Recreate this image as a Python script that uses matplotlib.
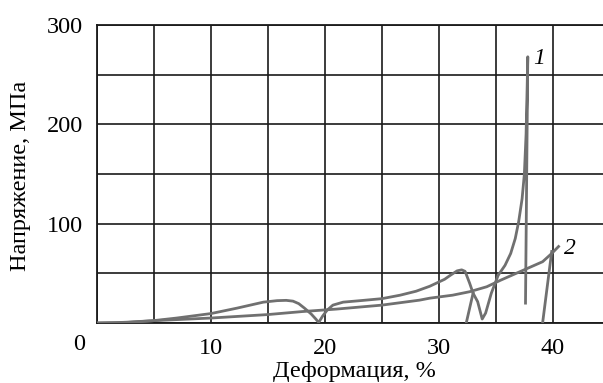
import matplotlib
matplotlib.use("Agg")
import matplotlib.pyplot as plt
import numpy as np

plt.rcParams['font.family'] = ['Liberation Serif', 'DejaVu Serif']

# Curve 1 (main trace)
c1_x = [0, 1.5, 2.6, 4.9, 7, 9, 10, 12.3, 14.6, 15.8, 16.6, 17.2, 17.7, 18.2, 18.8, 19.2, 19.45,
        19.8, 20.2, 20.7, 21.6, 23.1, 25.0, 26.6, 28.0, 29.2, 30.5, 31.0, 31.6, 32.0, 32.3,
        32.7, 33.0, 33.4, 33.8, 34.1, 34.6, 35.2, 35.8, 36.3, 36.7, 37.0, 37.3, 37.5,
        37.65, 37.75, 37.8, 37.6]
c1_y = [0, 0.3, 0.8, 2.3, 5, 8, 9.5, 15, 21, 22.5, 22.8, 22, 19.5, 15, 9, 4, 0.5,
        7, 13, 18, 21, 22.5, 24.5, 28, 32, 37, 44, 48, 52.5, 53.5, 52,
        40, 30, 21.5, 4, 10, 30, 48, 58, 70, 85, 102, 125, 150,
        190, 240, 268, 20]
# Curve 1 side branch
c1b_x = [33.0, 32.4]
c1b_y = [30, 0]

# Curve 2 (main trace)
c2_x = [0, 2.6, 4.9, 10, 15, 18, 21, 25, 28.3, 29.2, 31.2, 32.7, 34.2, 35.4, 37.1,
        39.1, 39.9, 40.5]
c2_y = [0, 0.5, 2.3, 5, 8.5, 11.5, 14, 18, 23, 25, 28, 31.5, 36.5, 43, 51.6,
        61.7, 70, 77]
# Curve 2 drop branch
c2b_x = [39.1, 39.9]
c2b_y = [0, 72]

x_ticks = [10, 20, 30, 40]
y_ticks = [100, 200, 300]
curve_labels = ["1", "2"]

fig = plt.figure(figsize=(6.03, 3.83), dpi=100)
ax = fig.add_axes([97/603, 60/383, 1 - 97/603, 298/383])

col = '#707070'
lw = 2.0
ax.plot(c1_x, c1_y, color=col, lw=lw, zorder=3, solid_joinstyle='round')
ax.plot(c1b_x, c1b_y, color=col, lw=lw, zorder=3)
ax.plot(c2_x, c2_y, color=col, lw=lw, zorder=3, solid_joinstyle='round')
ax.plot(c2b_x, c2b_y, color=col, lw=lw, zorder=3)

ax.set_xlim(0, 44.4)
ax.set_ylim(0, 300)

ax.set_xticks(np.arange(0, 45, 5), minor=False)
ax.set_xticklabels(['' if v not in x_ticks else str(v) for v in np.arange(0, 45, 5)])
ax.set_yticks(np.arange(0, 301, 50))
ax.set_yticklabels(['' if v not in y_ticks else str(v) for v in np.arange(0, 301, 50)])
ax.tick_params(length=0, labelsize=17.5)
ax.tick_params(axis='x', pad=11)
ax.tick_params(axis='y', pad=10)
ax.grid(True, color='#1a1a1a', lw=1.2)
ax.set_axisbelow(True)
for s in ['left', 'bottom', 'top']:
    ax.spines[s].set_color('#1a1a1a')
    ax.spines[s].set_linewidth(1.3)
ax.spines['right'].set_visible(False)

ax.text(-1.6, -22, "0", ha='center', va='center', fontsize=17.5, clip_on=False)

ax.text(38.3, 266, curve_labels[0], style='italic', fontsize=17, ha='left', va='center')
ax.text(41.0, 75, curve_labels[1], style='italic', fontsize=17, ha='left', va='center')

fig.text(354/603, 1 - 371/383, "Деформация, %", ha='center', va='center', fontsize=17.5)
fig.text(21/603, 1 - 176/383, "Напряжение, МПа", ha='center', va='center',
         fontsize=17.5, rotation=90)

fig.savefig("out.png", dpi=100)
